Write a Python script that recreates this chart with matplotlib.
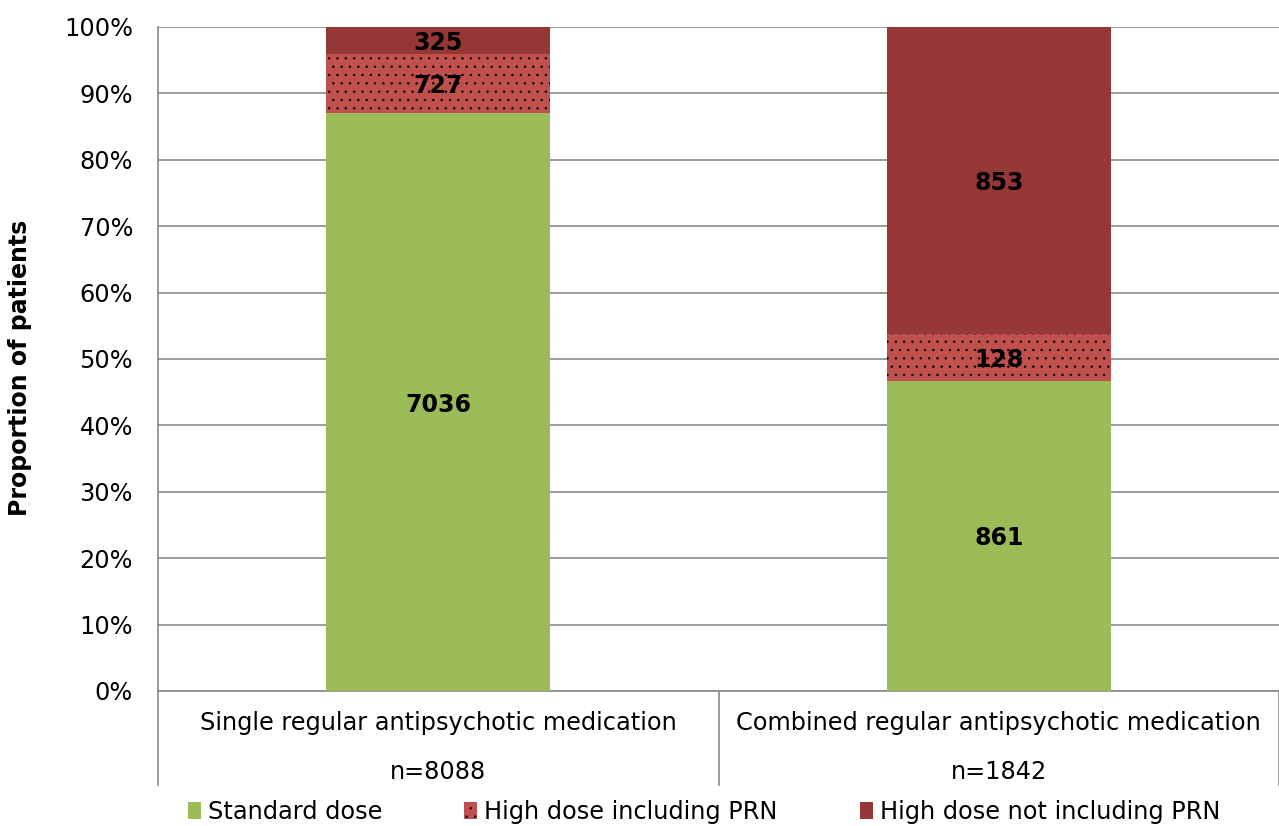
import matplotlib
matplotlib.use("Agg")
import matplotlib.pyplot as plt
from matplotlib.patches import Patch
import numpy as np

# patient counts per dose category
groups = ["Single regular antipsychotic medication", "Combined regular antipsychotic medication"]
group_n = ["n=8088", "n=1842"]
series_names = ["Standard dose", "High dose including PRN", "High dose not including PRN"]
standard = [7036, 861]
high_prn = [727, 128]
high_no_prn = [325, 853]

colors = ["#9BBB59", "#C0504D", "#953735"]
hatches = [None, "..", None]

plt.rcParams["font.family"] = ["DejaVu Sans"]
plt.rcParams["hatch.linewidth"] = 0.5
FS = 17.3

fig = plt.figure(figsize=(12.79, 8.26), dpi=100)
ax = fig.add_axes([158 / 1279, 1 - 691 / 826, 1121 / 1279, 664 / 826])

counts = np.array([standard, high_prn, high_no_prn], dtype=float)
totals = counts.sum(axis=0)
shares = counts / totals

x = np.arange(len(groups))
bottom = np.zeros(len(groups))
for i in range(len(series_names)):
    ax.bar(x, shares[i], 0.4, bottom=bottom, color=colors[i], hatch=hatches[i],
           edgecolor="black" if hatches[i] else colors[i], linewidth=0, zorder=3)
    for j in range(len(groups)):
        ax.text(x[j], bottom[j] + shares[i][j] / 2, f"{int(counts[i][j])}",
                ha="center", va="center_baseline", fontsize=17, fontweight="bold", zorder=4)
    bottom += shares[i]

ax.set_xlim(-0.5, 1.5)
ax.set_ylim(0, 1)
ax.set_yticks(np.arange(0, 1.01, 0.1))
ax.set_yticklabels([f"{int(round(v * 100))}%" for v in np.arange(0, 1.01, 0.1)], fontsize=FS)
ax.yaxis.grid(True, color="#8a8a8a", linewidth=1.2, zorder=0)
ax.set_xticks([])
for s in ["top", "right"]:
    ax.spines[s].set_visible(False)
ax.spines["left"].set_color("#8a8a8a")
ax.spines["bottom"].set_color("#8a8a8a")
ax.spines["left"].set_linewidth(1.2)
ax.spines["bottom"].set_linewidth(1.2)
ax.tick_params(axis="y", length=0, pad=18)
ax.set_ylabel("Proportion of patients", fontsize=17, fontweight="bold")
ax.yaxis.set_label_coords(-0.112, 0.486)

# category labels and separators beneath the axis
for b in [-0.5, 0.5, 1.5]:
    ax.plot([b, b], [0, -0.142], color="#8a8a8a", linewidth=1.2, clip_on=False)
for j in range(len(groups)):
    ax.text(x[j], -0.048, groups[j], ha="center", va="center", fontsize=FS)
    ax.text(x[j], -0.122, group_n[j], ha="center", va="center", fontsize=FS)

handles = [Patch(facecolor=colors[i], hatch=hatches[i], edgecolor="black" if hatches[i] else colors[i],
                 linewidth=0) for i in range(3)]
fig.legend(handles, series_names, loc="center", bbox_to_anchor=(0.5504, 1 - 812 / 826), ncol=3,
           frameon=False, fontsize=FS, handlelength=0.55, handleheight=0.7, handletextpad=0.3,
           columnspacing=3.4, borderpad=0)

fig.savefig("out.png", dpi=100)
